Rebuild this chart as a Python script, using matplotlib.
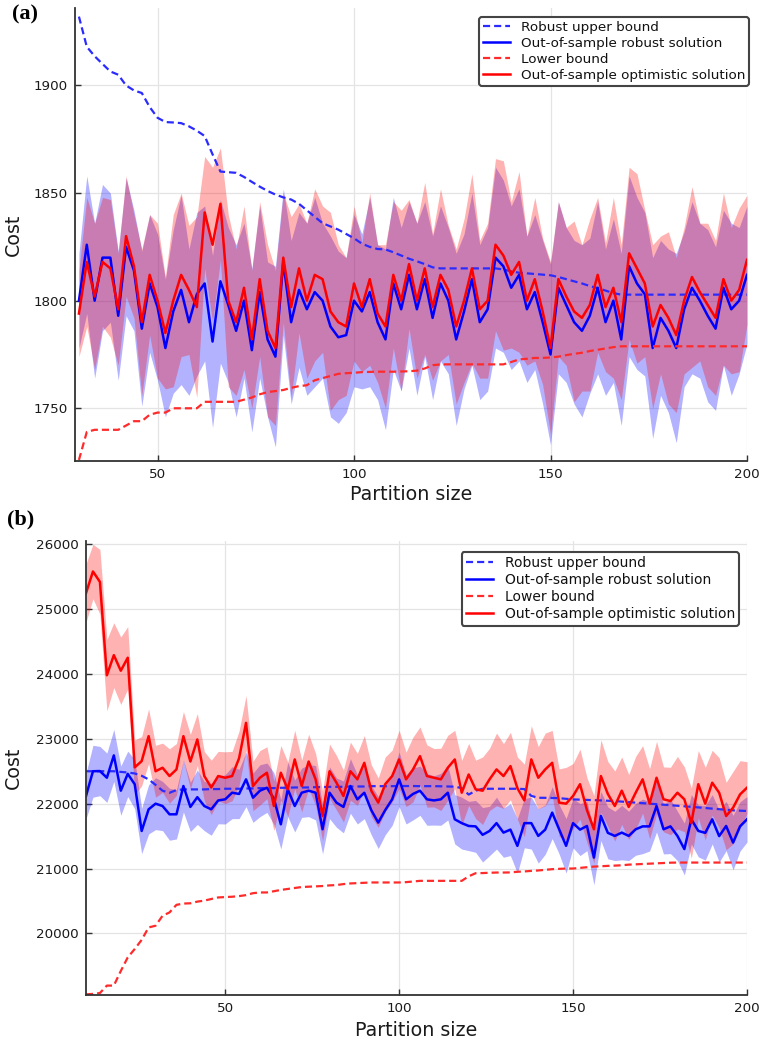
import numpy as np
import matplotlib
matplotlib.use("Agg")
import matplotlib.pyplot as plt

# ---------------- Panel (a) data ----------------
x_a = np.arange(30, 201, 2)

upper_a = [1932, 1918, 1913.6, 1910, 1906.5, 1905, 1900, 1897.7, 1896.5, 1890,
           1885, 1883, 1882.8, 1882.5, 1881, 1879, 1876.5, 1868, 1860, 1859.7,
           1859.4, 1857.5, 1855.2, 1853, 1851, 1849.3, 1848, 1847, 1845, 1842,
           1839, 1836, 1834.5, 1833, 1831, 1829, 1826.5, 1825, 1824, 1823.8,
           1822.5, 1821, 1819.5, 1818.3, 1817, 1815.5, 1815, 1815, 1815, 1815,
           1815, 1815, 1815, 1815, 1814.5, 1813.6, 1813, 1812.7, 1812.4, 1812.1,
           1811.8, 1811, 1810, 1809, 1808, 1806.8, 1805.8, 1804.7, 1803.5, 1802.8,
           1802.8, 1802.8, 1802.8, 1802.8, 1802.8, 1802.8, 1802.8, 1802.8, 1802.8, 1802.8,
           1802.8, 1802.8, 1802.8, 1802.8, 1802.8, 1802.8]

lower_a = [1726, 1739, 1740, 1740, 1740, 1740, 1742, 1744, 1744, 1747,
           1748, 1748, 1750, 1750, 1750, 1750, 1753, 1753, 1753, 1753,
           1753, 1754, 1755, 1756.5, 1757.5, 1758, 1758.5, 1759.5, 1760.3, 1760.7,
           1763, 1764, 1765, 1766, 1766.3, 1766.5, 1766.8, 1766.9, 1767, 1767,
           1767, 1767.1, 1767.2, 1767.5, 1768.5, 1770, 1770.4, 1770.4, 1770.4, 1770.4,
           1770.4, 1770.4, 1770.4, 1770.4, 1770.4, 1771.5, 1772.7, 1773, 1773.4, 1773.4,
           1773.6, 1774, 1774.7, 1775.3, 1775.8, 1776.6, 1777.2, 1777.8, 1778.4, 1778.8,
           1778.8, 1778.8, 1778.8, 1778.8, 1778.8, 1778.8, 1778.8, 1778.8, 1778.8, 1778.8,
           1778.8, 1778.8, 1778.8, 1778.8, 1778.8, 1778.8]

robust_a = [1800, 1826, 1800, 1820, 1820, 1793, 1825, 1814, 1787, 1808,
            1797, 1778, 1795, 1805, 1790, 1803, 1808, 1781, 1809, 1798,
            1786, 1800, 1777, 1804, 1782, 1774, 1818, 1790, 1805, 1796,
            1804, 1800, 1788, 1783, 1784, 1800, 1795, 1804, 1790, 1782,
            1808, 1796, 1812, 1796, 1810, 1792, 1808, 1800, 1782, 1795,
            1810, 1790, 1796, 1820, 1816, 1806, 1812, 1796, 1804, 1790,
            1775, 1806, 1798, 1790, 1786, 1793, 1806, 1790, 1800, 1782,
            1816, 1808, 1803, 1778, 1792, 1786, 1778, 1796, 1806, 1800,
            1793, 1787, 1806, 1796, 1800, 1812]

robust_hw_a = [22, 32, 36, 34, 30, 30, 32, 28, 36, 32,
               34, 32, 38, 44, 34, 38, 36, 40, 38, 36,
               40, 36, 38, 40, 36, 42, 34, 38, 36, 40,
               44, 36, 42, 40, 36, 40, 36, 44, 36, 42,
               40, 38, 34, 40, 36, 38, 36, 34, 40, 36,
               40, 36, 38, 42, 40, 38, 40, 34, 36, 38,
               42, 40, 36, 38, 40, 36, 40, 34, 38, 40,
               42, 40, 38, 42, 36, 38, 44, 36, 40, 36,
               40, 38, 36, 40, 34, 32]

optim_a = [1794, 1818, 1802, 1818, 1815, 1796, 1830, 1816, 1790, 1812,
           1800, 1785, 1800, 1812, 1805, 1797, 1841, 1826, 1845, 1800,
           1790, 1806, 1782, 1810, 1786, 1778, 1820, 1797, 1815, 1800,
           1812, 1810, 1795, 1790, 1788, 1808, 1797, 1810, 1794, 1788,
           1812, 1800, 1817, 1800, 1815, 1797, 1812, 1805, 1788, 1800,
           1815, 1796, 1800, 1826, 1821, 1812, 1818, 1800, 1810, 1795,
           1778, 1810, 1802, 1795, 1792, 1798, 1812, 1797, 1806, 1790,
           1822, 1815, 1808, 1788, 1798, 1792, 1784, 1800, 1811, 1804,
           1798, 1792, 1810, 1800, 1805, 1819]

optim_hw_a = [20, 30, 34, 30, 32, 26, 28, 24, 34, 28,
              36, 26, 40, 38, 30, 42, 26, 36, 26, 40,
              34, 38, 32, 36, 40, 36, 30, 42, 30, 36,
              40, 34, 46, 36, 32, 36, 30, 40, 32, 38,
              34, 42, 30, 36, 40, 34, 40, 30, 36, 38,
              44, 32, 36, 40, 44, 34, 42, 30, 38, 34,
              40, 36, 32, 42, 34, 40, 36, 30, 42, 36,
              40, 44, 34, 38, 32, 40, 36, 34, 42, 32,
              38, 36, 40, 34, 38, 30]

# ---------------- Panel (b) data ----------------
x_b = np.arange(10, 201, 2)

upper_b = [22500, 22500, 22500, 22500, 22500, 22490, 22480, 22466, 22430, 22374,
           22290, 22200, 22168, 22210, 22220, 22220, 22220, 22220, 22225, 22225,
           22230, 22230, 22230, 22235, 22235, 22240, 22240, 22240, 22245, 22245,
           22250, 22250, 22250, 22255, 22255, 22260, 22260, 22260, 22265, 22265,
           22265, 22270, 22270, 22270, 22270, 22272, 22272, 22272, 22270, 22270,
           22270, 22268, 22265, 22262, 22240, 22140, 22200, 22230, 22230, 22230,
           22230, 22230, 22230, 22225, 22120, 22091, 22090, 22088, 22085, 22075,
           22066, 22062, 22058, 22054, 22050, 22045, 22040, 22032, 22024, 22016,
           22008, 22000, 21992, 21984, 21976, 21968, 21960, 21951, 21942, 21933,
           21924, 21915, 21906, 21897, 21892, 21887]

lower_b = [19060, 19067, 19080, 19195, 19195, 19420, 19630, 19759, 19900, 20092,
           20118, 20272, 20323, 20440, 20460, 20464, 20490, 20505, 20530, 20554,
           20560, 20565, 20575, 20590, 20620, 20631, 20631, 20650, 20670, 20685,
           20700, 20715, 20720, 20725, 20730, 20740, 20745, 20760, 20770, 20775,
           20780, 20785, 20785, 20785, 20785, 20785, 20790, 20800, 20810, 20810,
           20810, 20810, 20810, 20810, 20810, 20880, 20928, 20930, 20935, 20938,
           20938, 20940, 20950, 20955, 20964, 20970, 20980, 20990, 20995, 21000,
           21000, 21010, 21020, 21030, 21035, 21041, 21045, 21050, 21060, 21065,
           21070, 21075, 21080, 21085, 21090, 21092, 21092, 21092, 21092, 21092,
           21092, 21092, 21092, 21092, 21092, 21092]

robust_b = [22118, 22500, 22503, 22400, 22744, 22200, 22460, 22300, 21579, 21913,
            22000, 21964, 21836, 21836, 22272, 21950, 22100, 21964, 21913, 22050,
            22067, 22169, 22150, 22375, 22092, 22200, 22246, 22080, 21682, 22220,
            21964, 22169, 22200, 22169, 21605, 22169, 22016, 21950, 22272, 22067,
            22169, 21900, 21708, 21900, 22067, 22375, 22067, 22150, 22200, 22067,
            22050, 22067, 22169, 21759, 21700, 21656, 21650, 21520, 21579, 21700,
            21554, 21600, 21349, 21700, 21700, 21503, 21600, 21862, 21605, 21350,
            21700, 21600, 21656, 21169, 21810, 21550, 21503, 21554, 21503, 21605,
            21650, 21650, 21964, 21605, 21650, 21503, 21300, 21759, 21580, 21550,
            21759, 21500, 21656, 21400, 21650, 21759]

robust_hw_b = [350, 400, 380, 380, 400, 380, 350, 380, 350, 380,
               400, 380, 400, 380, 400, 380, 420, 380, 400, 360,
               380, 400, 380, 420, 380, 400, 380, 400, 380, 420,
               400, 380, 400, 420, 380, 400, 380, 400, 420, 380,
               400, 380, 400, 380, 400, 420, 380, 400, 380, 400,
               380, 400, 420, 380, 400, 380, 400, 420, 380, 400,
               380, 400, 420, 380, 400, 420, 380, 400, 380, 420,
               380, 400, 380, 420, 380, 400, 380, 420, 380, 400,
               420, 380, 400, 380, 420, 380, 400, 380, 400, 420,
               380, 400, 380, 420, 380, 350]

optim_b = [25246, 25580, 25420, 23980, 24290, 24050, 24250, 22560, 22656, 23041,
           22500, 22554, 22426, 22528, 23041, 22650, 22990, 22426, 22250, 22426,
           22400, 22426, 22700, 23246, 22272, 22400, 22477, 21964, 22477, 22221,
           22682, 22272, 22650, 22375, 21810, 22500, 22323, 22118, 22500, 22375,
           22630, 22200, 22016, 22300, 22426, 22682, 22375, 22528, 22733, 22426,
           22400, 22375, 22554, 22682, 22169, 22450, 22221, 22200, 22375, 22528,
           22426, 22580, 22240, 22050, 22682, 22400, 22528, 22630, 22016, 22000,
           22118, 22300, 21900, 21605, 22426, 22150, 21964, 22200, 21950, 22169,
           22375, 22000, 22400, 22067, 22041, 22169, 22067, 21700, 22300, 22000,
           22323, 22169, 21810, 21938, 22143, 22246]

optim_hw_b = [450, 420, 500, 550, 500, 520, 480, 420, 380, 420,
              400, 380, 420, 400, 380, 420, 400, 380, 420, 380,
              400, 380, 420, 420, 380, 420, 400, 380, 420, 420,
              450, 400, 420, 400, 380, 420, 420, 400, 450, 400,
              420, 400, 380, 420, 400, 450, 420, 500, 450, 480,
              450, 480, 500, 450, 500, 480, 450, 520, 480, 560,
              500, 520, 480, 560, 520, 480, 560, 500, 520, 560,
              500, 540, 500, 520, 560, 500, 540, 520, 500, 560,
              520, 540, 560, 500, 520, 560, 500, 540, 520, 560,
              500, 540, 520, 560, 520, 400]

legend_labels = ["Robust upper bound", "Out-of-sample robust solution",
                 "Lower bound", "Out-of-sample optimistic solution"]
xticks = [50, 100, 150, 200]
yticks_a = [1750, 1800, 1850, 1900]
yticks_b = [20000, 21000, 22000, 23000, 24000, 25000, 26000]

for name, arr, xx in [("upper_a", upper_a, x_a), ("lower_a", lower_a, x_a),
                      ("robust_a", robust_a, x_a), ("robust_hw_a", robust_hw_a, x_a),
                      ("optim_a", optim_a, x_a), ("optim_hw_a", optim_hw_a, x_a),
                      ("upper_b", upper_b, x_b), ("lower_b", lower_b, x_b),
                      ("robust_b", robust_b, x_b), ("robust_hw_b", robust_hw_b, x_b),
                      ("optim_b", optim_b, x_b), ("optim_hw_b", optim_hw_b, x_b)]:
    if len(arr) != len(xx):
        raise ValueError(f"{name}: {len(arr)} vs {len(xx)}")

BLUE = "#0000ff"
RED = "#ff0000"


def draw(ax, x, upper, robust, rhw, lower, optim, ohw):
    robust = np.array(robust, float)
    rhw = np.array(rhw, float)
    optim = np.array(optim, float)
    ohw = np.array(ohw, float)
    h1, = ax.plot(x, upper, color="#2b2bff", ls=(0, (3.2, 1.8)), lw=1.6)
    ax.fill_between(x, robust - rhw, robust + rhw, color=BLUE, alpha=0.3, lw=0)
    h2, = ax.plot(x, robust, color=BLUE, lw=1.8)
    h3, = ax.plot(x, lower, color="#ff2a2a", ls=(0, (3.2, 1.8)), lw=1.6)
    ax.fill_between(x, optim - ohw, optim + ohw, color=RED, alpha=0.3, lw=0)
    h4, = ax.plot(x, optim, color=RED, lw=1.8)
    return [h1, h2, h3, h4]


def style(ax, yticks):
    ax.set_xticks(xticks)
    ax.set_yticks(yticks)
    for s in ["top", "right"]:
        ax.spines[s].set_visible(False)
    for s in ["left", "bottom"]:
        ax.spines[s].set_color("#333333")
        ax.spines[s].set_linewidth(1.3)
    ax.grid(True, color="#e4e4e4", lw=0.9)
    ax.set_axisbelow(True)
    ax.tick_params(direction="in", length=4, width=1, color="#333333",
                   labelsize=9.7, labelcolor="#1a1a1a", pad=5)


fig = plt.figure(figsize=(7.6, 10.45), dpi=100)
ax_a = fig.add_axes([75 / 760, 1 - 461 / 1045, 672 / 760, 453 / 1045])
ax_b = fig.add_axes([86 / 760, 1 - 995 / 1045, 661 / 760, 454 / 1045])

ha = draw(ax_a, x_a, upper_a, robust_a, robust_hw_a, lower_a, optim_a, optim_hw_a)
hb = draw(ax_b, x_b, upper_b, robust_b, robust_hw_b, lower_b, optim_b, optim_hw_b)

style(ax_a, yticks_a)
style(ax_b, yticks_b)
ax_a.set_xlim(29, 200)
ax_a.set_ylim(1725.5, 1936)
ax_b.set_xlim(10, 200)
ax_b.set_ylim(19050, 26050)

for ax, lx, ly in [(ax_a, -0.077, -0.052), (ax_b, -0.095, -0.058)]:
    ax.set_xlabel("Partition size", fontsize=13.7, color="#1a1a1a")
    ax.set_ylabel("Cost", fontsize=13.7, color="#1a1a1a")
    ax.xaxis.set_label_coords(0.5, ly)
    ax.yaxis.set_label_coords(lx, 0.5)

for ax, h, anchor, fs in [(ax_a, ha, (749 / 760, 1 - 17 / 1045), 9.7),
                          (ax_b, hb, (739 / 760, 1 - 552 / 1045), 10.0)]:
    leg = ax.legend(h, legend_labels, loc="upper right", bbox_to_anchor=anchor,
                    bbox_transform=fig.transFigure, fontsize=fs, frameon=True,
                    fancybox=True, framealpha=1, edgecolor="#444444",
                    borderpad=0.3, labelspacing=0.22, handlelength=2.0,
                    handletextpad=0.8, borderaxespad=0)
    leg.get_frame().set_linewidth(1.5)
    for t in leg.get_texts():
        t.set_color("#111111")

fig.text(12 / 760, 1 - 4 / 1045, "(a)", fontfamily="Liberation Serif",
         fontweight="bold", fontsize=16, va="top", ha="left")
fig.text(7 / 760, 1 - 509 / 1045, "(b)", fontfamily="Liberation Serif",
         fontweight="bold", fontsize=16, va="top", ha="left")

fig.savefig("out.png", dpi=100)
